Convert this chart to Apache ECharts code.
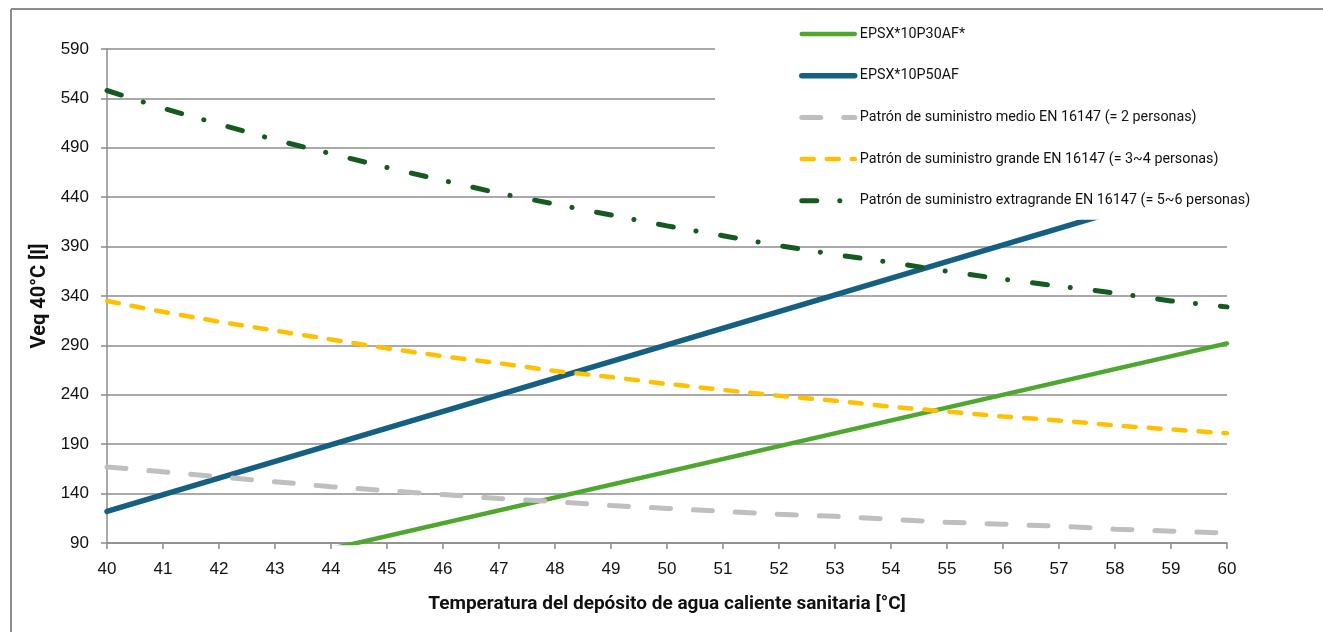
<!DOCTYPE html>
<html><head><meta charset="utf-8">
<script src="https://cdn.jsdelivr.net/npm/echarts@6/dist/echarts.min.js"></script>
<style>html,body{margin:0;padding:0;background:#fff;}#c{width:1323px;height:632px;}</style>
</head><body><div id="c"></div>
<script>
const temps = [40,41,42,43,44,45,46,47,48,49,50,51,52,53,54,55,56,57,58,59,60];
const xTicks = temps.map(String);
const yTicks = [90,140,190,240,290,340,390,440,490,540,590];
const names = [
  'EPSX*10P30AF*',
  'EPSX*10P50AF',
  'Patrón de suministro medio EN 16147 (= 2 personas)',
  'Patrón de suministro grande EN 16147 (= 3~4 personas)',
  'Patrón de suministro extragrande EN 16147 (= 5~6 personas)'
];
// straight lines: end points
const p30 = [[40,32],[60,292]];
const p50 = [[40,122],[60,459]];
// curves: read at every degree
const medio = [167,162,157,152,147,143,139,135,132,128,125,122,119,117,114,111,109,107,104,102,100];
const grande = [335,324,314,305,296,287,279,272,264,258,251,245,239,234,228,223,218,214,209,205,201];
const extra = [548,530,514,498,484,470,457,444,433,422,411,401,391,382,374,365,357,350,343,335,329];

const pair = arr => arr.map((v,i)=>[temps[i], v]);
const chart = echarts.init(document.getElementById('c'));
const lab = {fontFamily:"'Liberation Sans', Arial, sans-serif", fontSize:17, color:'#111'};
const narrow = "Roboto, sans-serif";
function s(name, data, color, width, dash){
  return {name, type:'line', data, symbol:'none', showSymbol:false, clip:true, smooth:false,
    lineStyle:{color, width, type: dash || 'solid', cap:'round'}, itemStyle:{color}, z:2, silent:true};
}
chart.setOption({
  animation:false,
  backgroundColor:'#fff',
  grid:{left:107, right:96, top:49, bottom:89},
  graphic:[
    {type:'line', shape:{x1:11,y1:9,x2:1323,y2:9}, style:{stroke:'#8c8c8c', lineWidth:2}, z:0},
    {type:'line', shape:{x1:11,y1:9,x2:11,y2:632}, style:{stroke:'#8c8c8c', lineWidth:2}, z:0}
  ],
  legend:{
    orient:'vertical', left:715, top:10,
    padding:[17,60,12,84], itemGap:27.7, itemWidth:53, itemHeight:16,
    backgroundColor:'#fff', z:10,
    itemStyle:{opacity:0},
    lineStyle:{width:'inherit', cap:'round'},
    textStyle:{fontFamily:narrow, fontSize:14.3, color:'#111'},
    data:names
  },
  xAxis:{
    type:'value', min:40, max:60, interval:1,
    name:'Temperatura del depósito de agua caliente sanitaria [°C]',
    nameLocation:'middle', nameGap:52,
    nameTextStyle:{fontFamily:narrow, fontWeight:'bold', fontSize:19, color:'#111'},
    axisLine:{show:true, lineStyle:{color:'#8c8c8c', width:1.5}},
    axisTick:{show:true, length:6, lineStyle:{color:'#8c8c8c', width:1.5}},
    axisLabel:Object.assign({margin:18, formatter:v=>xTicks[temps.indexOf(v)]}, lab),
    splitLine:{show:false}
  },
  yAxis:{
    type:'value', min:90, max:590, interval:50,
    name:'Veq 40°C [l]', nameLocation:'middle', nameGap:50, nameRotate:90,
    nameTextStyle:{fontFamily:narrow, fontWeight:'bold', fontSize:20, color:'#111'},
    axisLine:{show:true, lineStyle:{color:'#8c8c8c', width:1.5}},
    axisTick:{show:true, length:6, lineStyle:{color:'#8c8c8c', width:1.5}},
    axisLabel:Object.assign({margin:18, formatter:v=>String(yTicks[yTicks.indexOf(v)])}, lab),
    splitLine:{show:true, lineStyle:{color:'#8c8c8c', width:1.5}}
  },
  series:[
    s(names[0], p30, '#4EA72E', 4.5),
    s(names[1], p50, '#156082', 5.5),
    s(names[2], pair(medio), '#BFBFBF', 5, [19,23]),
    s(names[3], pair(grande), '#FFC000', 4.5, [12,13]),
    s(names[4], pair(extra), '#155A20', 5, [15,23,0.1,25])
  ]
});
</script></body></html>
